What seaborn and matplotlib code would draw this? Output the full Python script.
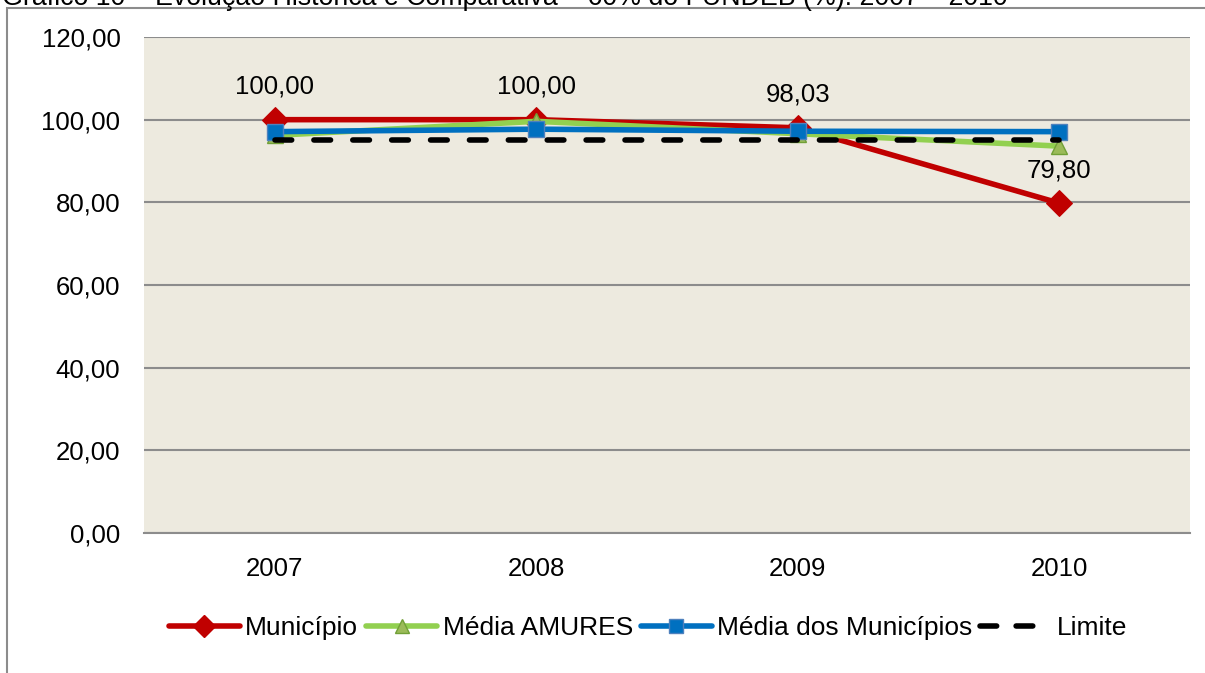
import matplotlib
matplotlib.use("Agg")
import matplotlib.pyplot as plt
import seaborn as sns
from matplotlib.ticker import FuncFormatter
from matplotlib.lines import Line2D
from matplotlib.patches import Rectangle

# ============================
#  DATA
# ============================
anos = ["2007", "2008", "2009", "2010"]
municipio = [100.00, 100.00, 98.03, 79.80]
media_amures = [96.2, 99.6, 96.6, 93.6]
media_municipios = [97.1, 97.7, 97.2, 97.1]
limite = [95.0, 95.0, 95.0, 95.0]

titulo = "Gráfico 10 – Evolução Histórica e Comparativa – 60% do FUNDEB (%): 2007 – 2010"

# ============================
#  STYLE
# ============================
sns.set_style("white")
plt.rcParams["font.family"] = ["Liberation Sans", "DejaVu Sans"]
plt.rcParams["text.color"] = "black"
plt.rcParams["xtick.color"] = "black"
plt.rcParams["ytick.color"] = "black"
FS = 18.5

fig = plt.figure(figsize=(12.05, 6.73), dpi=100)
ax = fig.add_axes([144 / 1205, 1 - 533 / 673, (1190 - 144) / 1205, (533 - 37) / 673])
ax.set_facecolor("#EDEADF")

x = list(range(len(anos)))

sns.lineplot(x=x, y=municipio, ax=ax, color="#C00000", linewidth=4,
             marker="D", markersize=13, markerfacecolor="#C00000",
             markeredgecolor="#C00000", zorder=3)
sns.lineplot(x=x, y=media_amures, ax=ax, color="#92D050", linewidth=4,
             marker="^", markersize=12, markerfacecolor="#9BBB59",
             markeredgecolor="#71A037", markeredgewidth=1, zorder=4)
sns.lineplot(x=x, y=media_municipios, ax=ax, color="#0070C0", linewidth=4,
             marker="s", markersize=12, markerfacecolor="#0070C0",
             markeredgecolor="#4F81BD", markeredgewidth=1, zorder=5)
sns.lineplot(x=x, y=limite, ax=ax, color="black", linewidth=4, zorder=6)
ax.lines[-1].set_dashes([3, 4])
ax.lines[-1].set_dash_capstyle("round")

# data labels
for xi, v in zip(x, municipio):
    ax.annotate(f"{v:.2f}".replace(".", ","), (xi, v), xytext=(0, 15),
                textcoords="offset points", ha="center", va="bottom", fontsize=FS)

ax.set_xlim(-0.5, 3.5)
ax.set_ylim(0, 120)
ax.set_yticks(range(0, 121, 20))
ax.yaxis.set_major_formatter(FuncFormatter(lambda v, p: f"{v:.2f}".replace(".", ",")))
ax.set_xticks(x)
ax.set_xticklabels(anos)
ax.tick_params(axis="both", labelsize=FS, length=0)
ax.tick_params(axis="y", pad=17)
ax.tick_params(axis="x", pad=17)
ax.grid(axis="y", color="#8C8C8C", linewidth=1.5)
ax.set_axisbelow(True)
for s in ["left", "right", "top"]:
    ax.spines[s].set_visible(False)
ax.spines["bottom"].set_color("#8C8C8C")
ax.spines["bottom"].set_linewidth(1.5)

# legend
handles = [
    Line2D([], [], color="#C00000", linewidth=4, marker="D", markersize=11),
    Line2D([], [], color="#92D050", linewidth=4, marker="^", markersize=10,
           markerfacecolor="#9BBB59", markeredgecolor="#71A037"),
    Line2D([], [], color="#0070C0", linewidth=4, marker="s", markersize=10,
           markeredgecolor="#4F81BD"),
    Line2D([], [], color="black", linewidth=4, dashes=[3, 3.5],
           dash_capstyle="round"),
]
labels = ["Município", "Média AMURES", "Média dos Municípios", "Limite"]
fig.legend(handles, labels, loc="center", bbox_to_anchor=(648 / 1205, 1 - 628 / 673),
           ncol=4, frameon=False, fontsize=19, handlelength=2.7,
           handletextpad=0.2, columnspacing=0.3)

# outer frame and clipped caption
fig.patches.append(Rectangle((7 / 1205, -0.1), 1.2, 1 - 8 / 673 + 0.1,
                             transform=fig.transFigure, fill=False,
                             edgecolor="#8C8C8C", linewidth=1.5))
fig.text(2 / 1205, 1 - 5 / 673, titulo, fontsize=19.3, va="baseline", ha="left")

fig.savefig("out.png", dpi=100)
